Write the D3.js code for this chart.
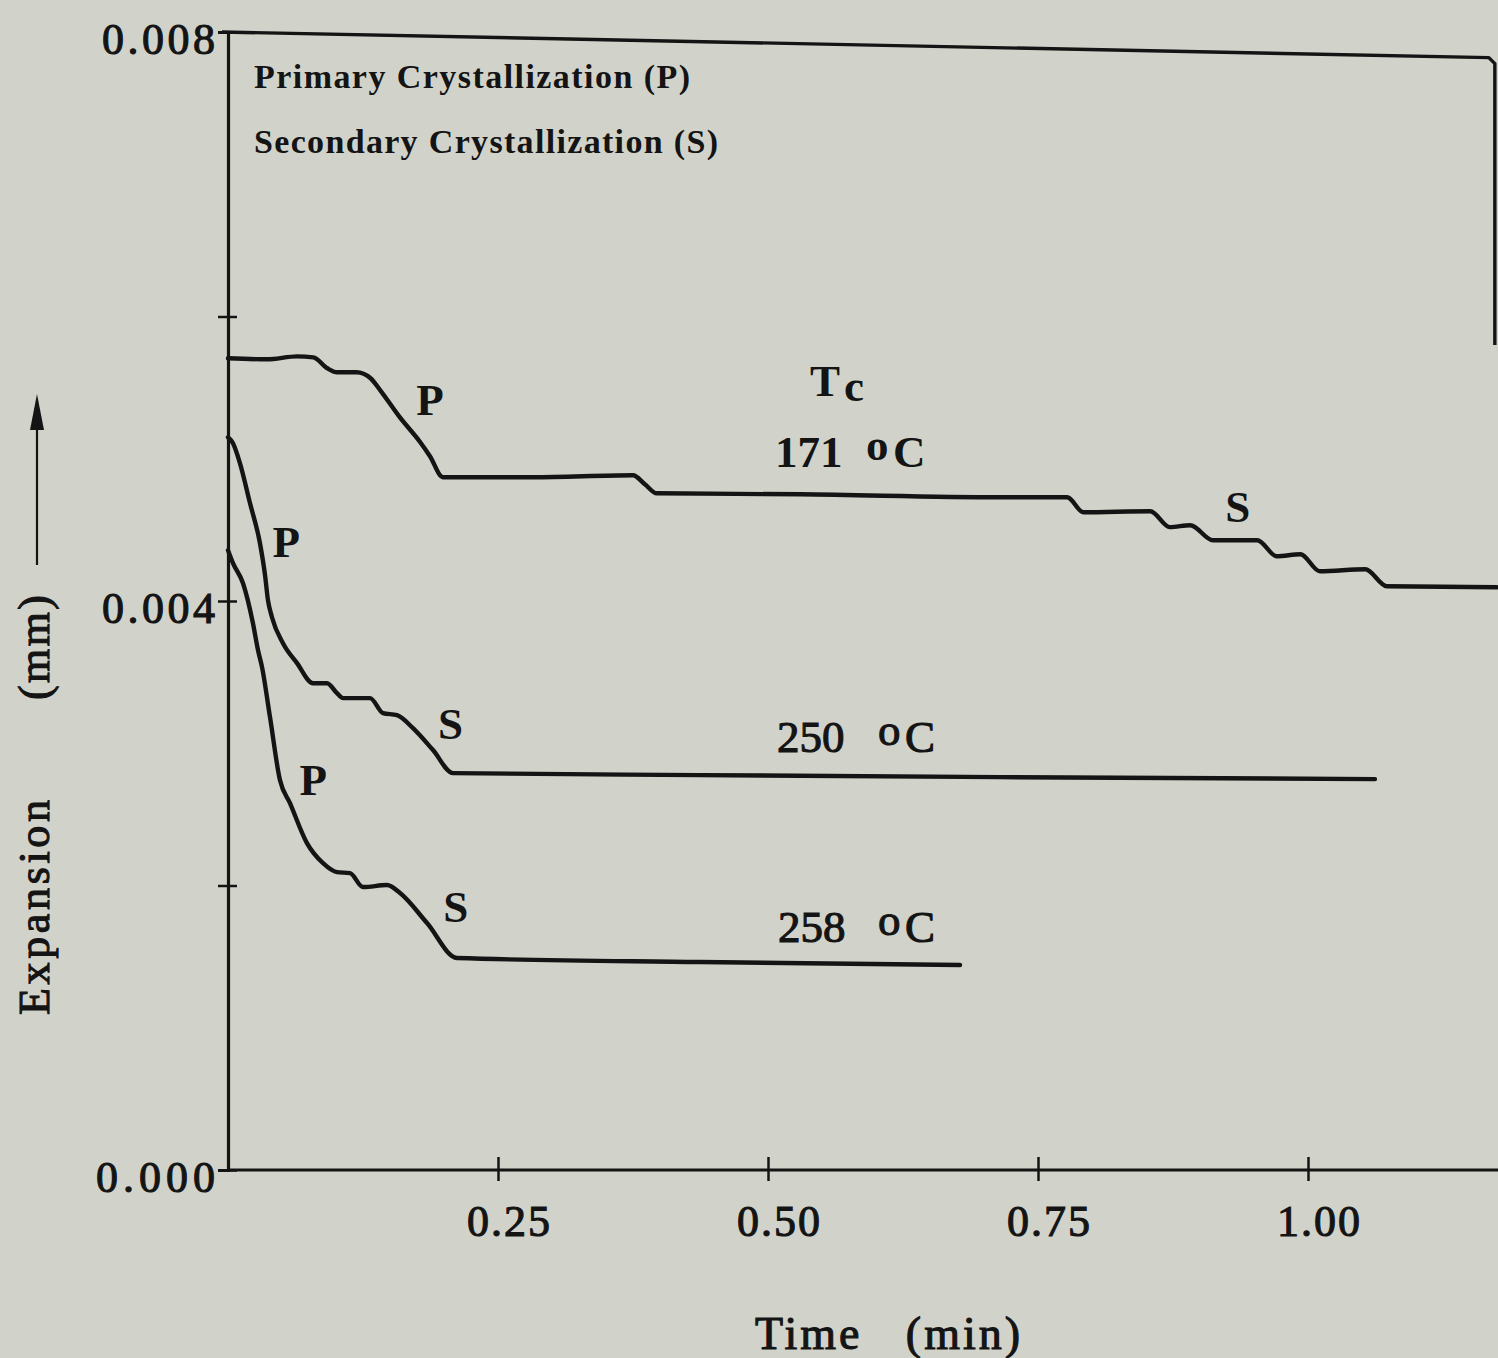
<!DOCTYPE html>
<html>
<head>
<meta charset="utf-8">
<script src="https://cdn.jsdelivr.net/npm/d3@7"></script>
<style>
  html, body { margin: 0; padding: 0; background: #d1d3ca; }
  svg { display: block; }
  svg text { font-family: "Liberation Serif", Tinos, "Times New Roman", Times, "Nimbus Roman", serif; }
</style>
</head>
<body>
<svg id="chart" width="1498" height="1358"></svg>
<script>
// ---- Dilatometer traces: expansion (mm) vs time (min) at three crystallization temperatures ----
const time171 = [0, 0.036, 0.064, 0.079, 0.092, 0.101, 0.119, 0.132, 0.141, 0.159, 0.178, 0.187, 0.199, 0.282, 0.375, 0.386, 0.397, 0.530, 0.715, 0.777, 0.792, 0.854, 0.872, 0.891, 0.912, 0.953, 0.971, 0.993, 1.011, 1.053, 1.073, 1.175];
const exp171  = [0.005706, 0.005699, 0.005720, 0.005713, 0.005636, 0.005608, 0.005608, 0.005566, 0.005481, 0.005292, 0.005116, 0.005018, 0.004870, 0.004870, 0.004884, 0.004821, 0.004757, 0.004750, 0.004729, 0.004729, 0.004624, 0.004631, 0.004519, 0.004533, 0.004427, 0.004427, 0.004315, 0.004329, 0.004209, 0.004223, 0.004104, 0.004097];

const time250 = [0, 0.0046, 0.0111, 0.0204, 0.0296, 0.0343, 0.0370, 0.0407, 0.0509, 0.0639, 0.0787, 0.0917, 0.1009, 0.1065, 0.1315, 0.1435, 0.1565, 0.1713, 0.1898, 0.2083, 0.4370, 0.7148, 1.0620];
const exp250  = [0.005151, 0.005109, 0.004968, 0.004687, 0.004406, 0.004181, 0.004006, 0.003886, 0.003703, 0.003563, 0.003422, 0.003422, 0.003352, 0.003317, 0.003317, 0.003212, 0.003197, 0.003106, 0.002952, 0.002790, 0.002776, 0.002762, 0.002748];

const time258 = [0, 0.0046, 0.0139, 0.0231, 0.0278, 0.0315, 0.0389, 0.0481, 0.0574, 0.0731, 0.0880, 0.1009, 0.1130, 0.1250, 0.1472, 0.1593, 0.1843, 0.2120, 0.4370, 0.6778];
const exp258  = [0.004357, 0.004266, 0.004125, 0.003844, 0.003654, 0.003535, 0.003183, 0.002741, 0.002579, 0.002298, 0.002157, 0.002094, 0.002087, 0.001989, 0.002003, 0.001947, 0.001736, 0.001490, 0.001462, 0.001441];

// axis ticks
const xTickValues = [0.25, 0.50, 0.75, 1.00];
const yTickValues = [0, 0.002, 0.004, 0.006, 0.008];
const yTickLabelled = [0, 0.004, 0.008];

// phase markers (P = primary, S = secondary) and temperature labels
const phaseText = ["P", "S", "P", "S", "P", "S"];
const phaseTime = [0.187, 0.935, 0.054, 0.206, 0.079, 0.211];
const phaseExp  = [0.005306, 0.004554, 0.004308, 0.003029, 0.002635, 0.001743];

const tempText = ["171", "250", "258"];
const tempTime = [0.5065, 0.5083, 0.5093];
const tempExp  = [0.004940, 0.002937, 0.001602];

const legendLines = ["Primary Crystallization (P)", "Secondary Crystallization (S)"];

// frame end point (the plot box is drawn a little skewed at its top edge)
const frameRightTime = 1.173;
const frameTopRightExp = 0.00782;
const frameRightBottomExp = 0.00580;

// ---- drawing ----
const INK = "#141414";
const svg = d3.select("#chart");

svg.append("rect").attr("width", 1498).attr("height", 1358).attr("fill", "#d1d3ca");

const x = d3.scaleLinear().domain([0, 1.175]).range([228, 1497]);
const y = d3.scaleLinear().domain([0, 0.008]).range([1170, 32]);

// x axis
const gx = svg.append("g")
  .attr("transform", `translate(0,${y(0)})`)
  .call(d3.axisBottom(x).tickValues(xTickValues).tickFormat(d3.format(".2f")).tickSizeOuter(0).tickSize(12));
gx.attr("font-family", null);
gx.select(".domain").attr("stroke", INK).attr("stroke-width", 3.2)
  .attr("d", `M${x(0)},0H${x(1.175) + 2}`);
gx.selectAll(".tick line").attr("stroke", INK).attr("stroke-width", 2.5).attr("y1", -13).attr("y2", 11);
gx.selectAll(".tick text")
  .attr("fill", INK).attr("font-size", 44)
  .attr("dy", null).attr("y", 66).attr("x", 10)
  .attr("stroke", INK).attr("stroke-width", 1.1)
  .attr("textLength", 83).attr("lengthAdjust", "spacing");

// y axis
const gy = svg.append("g")
  .attr("transform", `translate(${x(0)},0)`)
  .call(d3.axisLeft(y).tickValues(yTickValues)
    .tickFormat(d => yTickLabelled.includes(d) ? d3.format(".3f")(d) : "")
    .tickSizeOuter(0).tickSize(10));
gy.attr("font-family", null);
gy.select(".domain").attr("stroke", INK).attr("stroke-width", 3.2);
gy.selectAll(".tick line").attr("stroke", INK).attr("stroke-width", 2.5).attr("x1", -10).attr("x2", 9);
gy.selectAll(".tick text")
  .attr("fill", INK).attr("font-size", 44)
  .attr("dy", null).attr("y", 21).attr("x", -13)
  .attr("stroke", INK).attr("stroke-width", 1.1)
  .each(function (d) {
    if (this.textContent) d3.select(this).attr("textLength", d === 0 ? 119 : 113).attr("lengthAdjust", "spacing");
  });

// top and right edges of the frame
svg.append("path")
  .attr("d", d3.line()([
    [x(0) - 6, y(0.008)],
    [x(frameRightTime) - 6, y(frameTopRightExp)],
    [x(frameRightTime), y(frameTopRightExp) + 6],
    [x(frameRightTime), y(frameRightBottomExp)]
  ]))
  .attr("fill", "none").attr("stroke", INK).attr("stroke-width", 3.4).attr("stroke-linejoin", "round");

// traces
const line = d3.line().x(d => x(d[0])).y(d => y(d[1])).curve(d3.curveMonotoneX);
const traces = [
  d3.zip(time171, exp171),
  d3.zip(time250, exp250),
  d3.zip(time258, exp258)
];
svg.append("g").selectAll("path").data(traces).join("path")
  .attr("d", line)
  .attr("fill", "none").attr("stroke", INK).attr("stroke-width", 4.4)
  .attr("stroke-linejoin", "round").attr("stroke-linecap", "round");

// P / S markers
svg.append("g").selectAll("text").data(phaseText).join("text")
  .attr("x", (d, i) => x(phaseTime[i]))
  .attr("y", (d, i) => y(phaseExp[i]))
  .attr("text-anchor", "middle")
  .attr("font-size", 45).attr("font-weight", "bold")
  .attr("fill", INK)
  .text(d => d);

// "Tc" heading above the temperature labels
const tc = svg.append("text")
  .attr("x", x(0.5389)).attr("y", y(0.005439))
  .attr("font-size", 45).attr("font-weight", "bold").attr("fill", INK);
tc.append("tspan").text("T");
tc.append("tspan").attr("dx", 8).attr("dy", 5).text("c");

// temperature labels "xxx oC"
const tempDegOffset = [91, 101, 100];
const tempCOffset = [118, 128, 127];
tempText.forEach((t, i) => {
  const x0 = x(tempTime[i]);
  const txt = svg.append("text")
    .attr("x", x0).attr("y", y(tempExp[i]))
    .attr("font-size", 45).attr("fill", INK)
    .attr("font-weight", i === 0 ? "bold" : "normal")
    .attr("stroke", INK).attr("stroke-width", i === 0 ? 0 : 1.1);
  txt.append("tspan").text(t);
  txt.append("tspan").attr("x", x0 + tempDegOffset[i]).attr("dy", -7).text("o");
  txt.append("tspan").attr("x", x0 + tempCOffset[i]).attr("dy", 7).text("C");
});

// legend text in the upper left corner
svg.append("g").selectAll("text").data(legendLines).join("text")
  .attr("x", 254)
  .attr("y", (d, i) => 88 + i * 65)
  .attr("font-size", 34).attr("font-weight", "bold").attr("fill", INK)
  .attr("textLength", (d, i) => i === 0 ? 436 : 464)
  .attr("lengthAdjust", "spacing")
  .text(d => d);

// axis titles
svg.append("text")
  .attr("x", 755).attr("y", 1349)
  .attr("font-size", 46).attr("fill", INK)
  .attr("stroke", INK).attr("stroke-width", 1.1)
  .attr("textLength", 265).attr("lengthAdjust", "spacing")
  .attr("xml:space", "preserve")
  .text("Time   (min)");

const ylab = svg.append("g").attr("transform", "translate(49,0) rotate(-90)");
ylab.append("text")
  .attr("x", -1015).attr("y", 0)
  .attr("font-size", 44).attr("fill", INK)
  .attr("stroke", INK).attr("stroke-width", 1.1)
  .attr("textLength", 215).attr("lengthAdjust", "spacing")
  .text("Expansion");
ylab.append("text")
  .attr("x", -700).attr("y", 0)
  .attr("font-size", 44).attr("fill", INK)
  .attr("stroke", INK).attr("stroke-width", 1.1)
  .attr("textLength", 105).attr("lengthAdjust", "spacing")
  .text("(mm)");
// upward arrow beside the y title
ylab.append("line")
  .attr("x1", -565).attr("x2", -425).attr("y1", -12).attr("y2", -12)
  .attr("stroke", INK).attr("stroke-width", 2.2);
ylab.append("path")
  .attr("d", "M-394,-12 L-430,-19 L-430,-5 Z")
  .attr("fill", INK);
</script>
</body>
</html>
